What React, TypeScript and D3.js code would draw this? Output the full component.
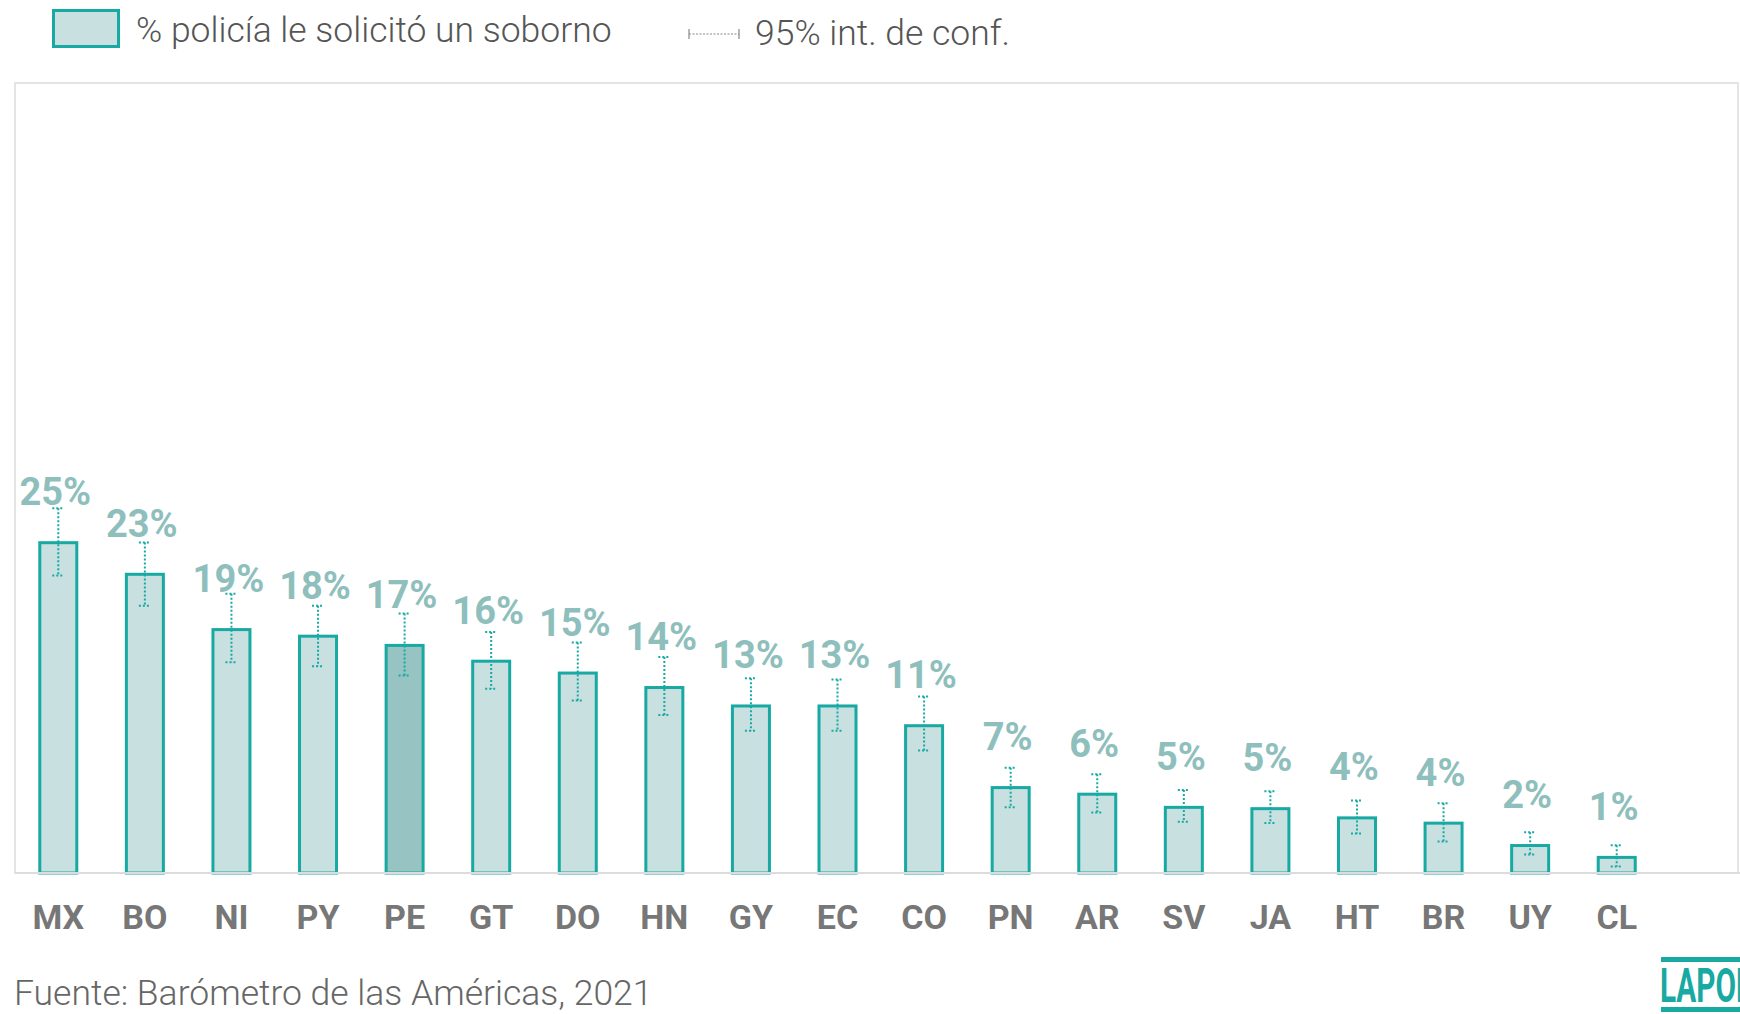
import React, { useEffect, useRef } from 'react';
import * as d3 from 'd3';

// Data
const countries = ['MX', 'BO', 'NI', 'PY', 'PE', 'GT', 'DO', 'HN', 'GY', 'EC', 'CO', 'PN', 'AR', 'SV', 'JA', 'HT', 'BR', 'UY', 'CL'];
const values = [25.2, 22.8, 18.6, 18.1, 17.4, 16.2, 15.3, 14.2, 12.8, 12.8, 11.3, 6.6, 6.1, 5.1, 5.0, 4.3, 3.9, 2.2, 1.3];
const ciLow = [22.6, 20.3, 16.0, 15.7, 15.0, 14.0, 13.1, 12.0, 10.8, 10.8, 9.3, 5.0, 4.6, 3.9, 3.8, 3.0, 2.4, 1.4, 0.5];
const ciHigh = [27.7, 25.1, 21.2, 20.3, 19.7, 18.3, 17.5, 16.4, 14.8, 14.7, 13.4, 8.0, 7.5, 6.3, 6.2, 5.5, 5.3, 3.1, 2.1];
const highlight = 'PE';
const legendLabels = ['% policía le solicitó un soborno', '95% int. de conf.'];
const sourceText = 'Fuente: Barómetro de las Américas, 2021';

const App = () => {
  const chartRef = useRef<HTMLDivElement>(null);

  useEffect(() => {
    const width = 1740;
    const height = 1014;
    const left = 15;
    const top = 83;
    const baseY = 873;
    const teal = '#17a9a2';

    const rows = countries.map((c, i) => ({ c, v: values[i], lo: ciLow[i], hi: ciHigh[i] }));

    const x = d3.scaleBand()
      .domain(countries)
      .range([left, left + countries.length * 86.58])
      .paddingInner(0.538)
      .paddingOuter(0.269);

    const y = d3.scaleLinear().domain([0, 60]).range([baseY, top]);

    d3.select(chartRef.current).selectAll('*').remove();

    const svg = d3.select(chartRef.current)
      .append('svg')
      .attr('width', width)
      .attr('height', height)
      .style('display', 'block')
      .style('background', '#fff')
      .style('font-family', 'Roboto, sans-serif');

    // plot frame
    svg.append('rect')
      .attr('x', left).attr('y', top)
      .attr('width', 1738 - left).attr('height', baseY - top)
      .attr('fill', 'none')
      .attr('stroke', '#dcdcdc')
      .attr('stroke-width', 1.5);

    // bars
    svg.append('g')
      .selectAll('rect')
      .data(rows)
      .join('rect')
      .attr('x', d => x(d.c)! + 1.5)
      .attr('y', d => y(d.v) + 1.5)
      .attr('width', x.bandwidth() - 3)
      .attr('height', d => baseY - y(d.v) - 1.5)
      .attr('fill', d => d.c === highlight ? '#97c3c2' : '#c9e0e0')
      .attr('stroke', teal)
      .attr('stroke-width', 3);

    // baseline
    svg.append('line')
      .attr('x1', left).attr('x2', width)
      .attr('y1', baseY).attr('y2', baseY)
      .attr('stroke', '#dcdcdc')
      .attr('stroke-width', 2);

    // error bars
    const err = svg.append('g')
      .attr('stroke', teal)
      .attr('stroke-width', 2)
      .attr('stroke-dasharray', '2,2')
      .attr('fill', 'none');

    rows.forEach(d => {
      const cx = x(d.c)! + x.bandwidth() / 2;
      err.append('line').attr('x1', cx).attr('x2', cx).attr('y1', y(d.hi)).attr('y2', y(d.lo));
      err.append('line').attr('x1', cx - 6).attr('x2', cx + 6).attr('y1', y(d.hi)).attr('y2', y(d.hi));
      err.append('line').attr('x1', cx - 6).attr('x2', cx + 6).attr('y1', y(d.lo)).attr('y2', y(d.lo));
    });

    // value labels
    svg.append('g')
      .selectAll('text')
      .data(rows)
      .join('text')
      .attr('x', d => x(d.c)! + x.bandwidth() / 2 - 3)
      .attr('y', d => y(d.v) - 36)
      .attr('text-anchor', 'middle')
      .attr('font-size', 38)
      .attr('font-weight', 700)
      .attr('fill', '#8fbfbd')
      .text(d => `${Math.round(d.v)}%`);

    // category labels
    svg.append('g')
      .selectAll('text')
      .data(rows)
      .join('text')
      .attr('x', d => x(d.c)! + x.bandwidth() / 2)
      .attr('y', 929)
      .attr('text-anchor', 'middle')
      .attr('font-size', 34)
      .attr('font-weight', 700)
      .attr('fill', '#777')
      .text(d => d.c);

    // legend
    const legend = svg.append('g');
    legend.append('rect')
      .attr('x', 53.5).attr('y', 10.5).attr('width', 65).attr('height', 36)
      .attr('fill', '#c9e0e0').attr('stroke', teal).attr('stroke-width', 3);
    legend.append('text')
      .attr('x', 136).attr('y', 42)
      .attr('font-size', 35.5).attr('font-weight', 300).attr('fill', '#555')
      .text(legendLabels[0]);
    const ci = legend.append('g').attr('stroke', '#888').attr('stroke-width', 1.2);
    ci.append('line').attr('x1', 689).attr('x2', 739).attr('y1', 34).attr('y2', 34).attr('stroke-dasharray', '2,1.5');
    ci.append('line').attr('x1', 689).attr('x2', 689).attr('y1', 29).attr('y2', 39);
    ci.append('line').attr('x1', 739).attr('x2', 739).attr('y1', 29).attr('y2', 39);
    legend.append('text')
      .attr('x', 755).attr('y', 45)
      .attr('font-size', 35.5).attr('font-weight', 300).attr('fill', '#555')
      .text(legendLabels[1]);

    // source
    svg.append('text')
      .attr('x', 14).attr('y', 1005)
      .attr('font-size', 35.5).attr('font-weight', 300).attr('fill', '#666')
      .text(sourceText);

    // logo (cut at the edge)
    const logo = svg.append('g');
    logo.append('rect').attr('x', 1661).attr('y', 957).attr('width', 90).attr('height', 5).attr('fill', teal);
    logo.append('rect').attr('x', 1661).attr('y', 1007).attr('width', 90).attr('height', 5).attr('fill', teal);
    logo.append('text')
      .attr('transform', 'translate(1660,1002) scale(0.62,1)')
      .attr('font-size', 48)
      .attr('font-weight', 700)
      .attr('fill', teal)
      .text('LAPOP');
  }, []);

  return <div ref={chartRef} style={{ position: 'fixed', left: 0, top: 0, overflow: 'hidden' }}></div>;
};

export default App;
